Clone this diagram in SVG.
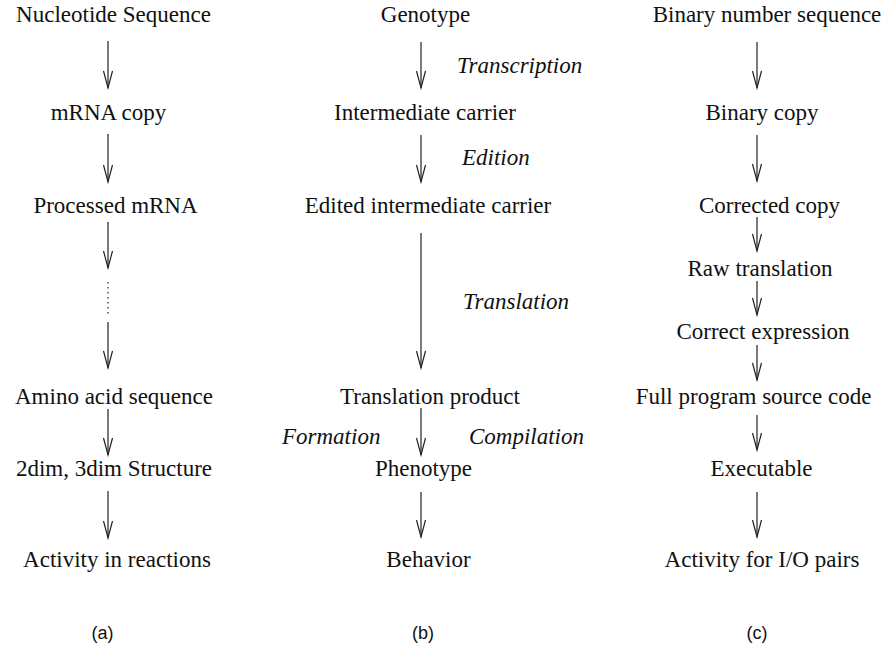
<svg xmlns="http://www.w3.org/2000/svg" width="886" height="656" viewBox="0 0 886 656">
<defs>
<marker id="v" markerUnits="userSpaceOnUse" viewBox="-18 -6 20 12" markerWidth="20" markerHeight="12" refX="0" refY="0" orient="auto" overflow="visible">
<path d="M-17,-4.5 L0,0 L-17,4.5" fill="none" stroke="#222" stroke-width="1.2"/>
</marker>
</defs>
<style>
.t{font-family:"Liberation Serif","Times New Roman",serif;font-size:23px;fill:#111;text-anchor:middle}
.i{font-family:"Liberation Serif","Times New Roman",serif;font-size:23px;font-style:italic;fill:#111}
.c{font-family:"Liberation Sans",Arial,sans-serif;font-size:18px;fill:#111;text-anchor:middle}
.a{stroke:#222;stroke-width:1.2;fill:none;marker-end:url(#v)}
.d{stroke:#222;stroke-width:1.2;fill:none;stroke-dasharray:1.5 3.5}
</style>
<rect width="886" height="656" fill="#fff"/>
<g id="connectors">
<line class="a" x1="108" y1="41" x2="108" y2="88"/>
<line class="a" x1="108" y1="134" x2="108" y2="182"/>
<line class="a" x1="108" y1="222" x2="108" y2="268"/>
<line class="d" x1="108" y1="282" x2="108" y2="316"/>
<line class="a" x1="108" y1="322" x2="108" y2="368"/>
<line class="a" x1="108" y1="409" x2="108" y2="455"/>
<line class="a" x1="108" y1="491" x2="108" y2="538"/>
<line class="a" x1="421" y1="42" x2="421" y2="88"/>
<line class="a" x1="421" y1="135" x2="421" y2="182"/>
<line class="a" x1="421" y1="233" x2="421" y2="368"/>
<line class="a" x1="421" y1="408" x2="421" y2="455"/>
<line class="a" x1="421" y1="492" x2="421" y2="537"/>
<line class="a" x1="757" y1="42" x2="757" y2="88"/>
<line class="a" x1="757" y1="135" x2="757" y2="181"/>
<line class="a" x1="757" y1="217" x2="757" y2="251"/>
<line class="a" x1="757" y1="281" x2="757" y2="315"/>
<line class="a" x1="757" y1="345" x2="757" y2="380"/>
<line class="a" x1="757" y1="415" x2="757" y2="450"/>
<line class="a" x1="757" y1="492" x2="757" y2="537"/>
</g>
<g id="edge-labels">
<text class="i" x="457" y="73">Transcription</text>
<text class="i" x="462" y="165">Edition</text>
<text class="i" x="463" y="309">Translation</text>
<text class="i" x="282" y="444">Formation</text>
<text class="i" x="469" y="444">Compilation</text>
</g>
<g id="col-a">
<g id="a1"><text class="t" x="113.5" y="22">Nucleotide Sequence</text></g>
<g id="a2"><text class="t" x="108.5" y="120">mRNA copy</text></g>
<g id="a3"><text class="t" x="115.5" y="213">Processed mRNA</text></g>
<g id="a4"><text class="t" x="114" y="404">Amino acid sequence</text></g>
<g id="a5"><text class="t" x="114" y="476">2dim, 3dim Structure</text></g>
<g id="a6"><text class="t" x="117" y="567">Activity in reactions</text></g>
</g>
<g id="col-b">
<g id="b1"><text class="t" x="425.5" y="22">Genotype</text></g>
<g id="b2"><text class="t" x="425" y="120">Intermediate carrier</text></g>
<g id="b3"><text class="t" x="428" y="213">Edited intermediate carrier</text></g>
<g id="b4"><text class="t" x="430" y="404">Translation product</text></g>
<g id="b5"><text class="t" x="423.5" y="476">Phenotype</text></g>
<g id="b6"><text class="t" x="428.5" y="567">Behavior</text></g>
</g>
<g id="col-c">
<g id="c1"><text class="t" x="767" y="22">Binary number sequence</text></g>
<g id="c2"><text class="t" x="762" y="120">Binary copy</text></g>
<g id="c3"><text class="t" x="769.5" y="213">Corrected copy</text></g>
<g id="c4"><text class="t" x="760" y="276">Raw translation</text></g>
<g id="c5"><text class="t" x="763" y="339">Correct expression</text></g>
<g id="c6"><text class="t" x="753.5" y="404">Full program source code</text></g>
<g id="c7"><text class="t" x="761.5" y="476">Executable</text></g>
<g id="c8"><text class="t" x="762" y="567">Activity for I/O pairs</text></g>
</g>
<g id="captions">
<text class="c" x="102.5" y="639">(a)</text>
<text class="c" x="423" y="639">(b)</text>
<text class="c" x="757" y="639">(c)</text>
</g>
</svg>
